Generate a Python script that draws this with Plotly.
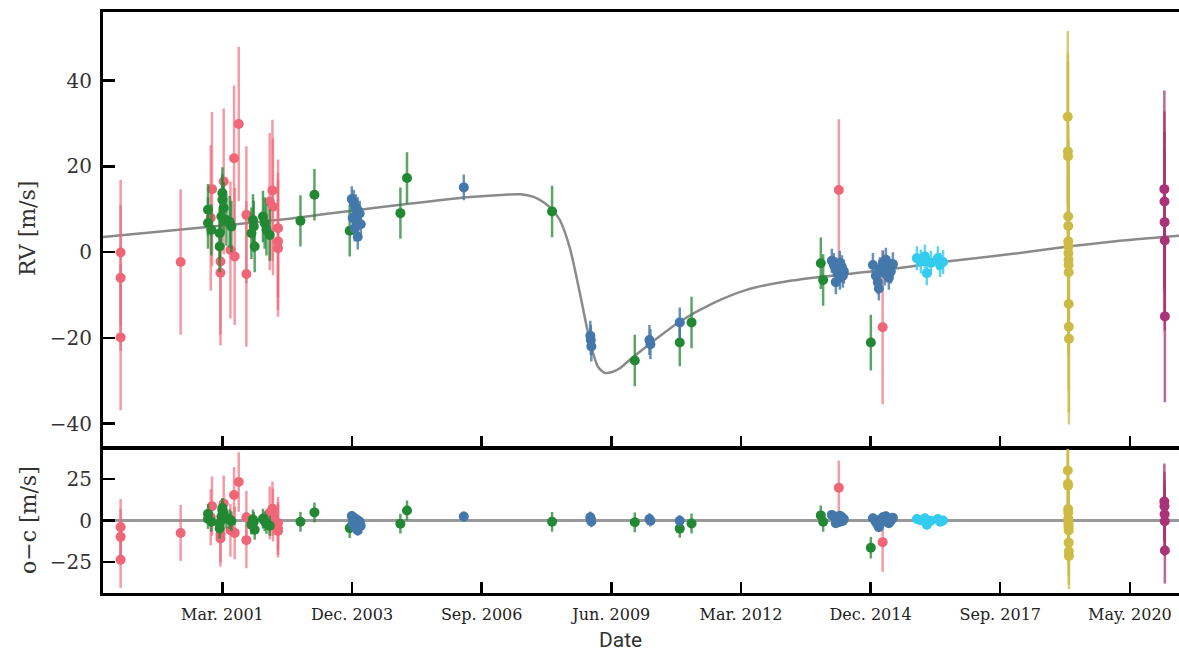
import plotly.graph_objects as go

# x values: BJD - 2450000
tick_vals = [2000, 3000, 4000, 5000, 6000, 7000, 8000, 9000]
tick_text = ["Mar. 2001", "Dec. 2003", "Sep. 2006", "Jun. 2009",
             "Mar. 2012", "Dec. 2014", "Sep. 2017", "May. 2020"]

# model curve
model_t = [1077, 1825, 2519, 3059, 3471, 3883, 4180, 4300, 4400, 4480, 4541, 4603,
           4680, 4757, 4811, 4860, 4898, 4950, 5012, 5066, 5143, 5272, 5529,
           5786, 6043, 6300, 6634, 7072, 7586, 8100, 8525, 8872, 9379]
model_rv = [3.5, 5.7, 7.8, 9.9, 11.4, 12.8, 13.4, 13.5, 12.9, 11.6, 10.0, 7.5,
            1.0, -9.5, -17.5, -23.6, -26.8, -28.2, -27.9, -27.1, -25.1, -22.0, -16.2,
            -11.9, -8.8, -7.1, -5.7, -4.3, -2.2, -0.4, 1.3, 2.5, 3.8]

# pink series
pink_t = [1215, 1215, 1215, 1678, 1910, 1920, 1985, 1985, 2010, 2062, 2095, 2090,
          2126, 2185, 2185, 2365, 2386, 2390, 2429, 2429, 2429, 6755, 7093]
pink_rv = [-0.1, -6.0, -19.9, -2.3, 8.0, 14.7, -2.2, -4.8, 16.5, 0.5, -1.0, 21.9,
           29.9, 8.7, -5.1, 11.8, 14.4, 10.6, 5.6, 2.5, 0.9, 14.5, -17.5]
pink_err = [17, 17, 17, 17, 17, 18, 17, 17, 17, 16, 16, 17,
            18, 16, 17, 16, 16.5, 16, 16, 16, 16, 16.5, 18]
pink_oc = [-4.0, -9.9, -23.8, -7.6, 2.0, 8.7, -8.3, -10.9, 10.3, -5.9, -7.5, 15.4,
           23.3, 2.0, -11.9, 4.6, 7.1, 3.3, -1.7, -4.8, -6.4, 19.8, -13.1]

# green series
green_t = [1889, 1889, 1915, 1979, 1979, 2000, 2000, 2010, 1992, 2031, 2056, 2069,
           2236, 2224, 2249, 2242, 2313, 2326, 2340, 2365, 2602, 2710, 2982, 3373,
           3424, 4543, 5181, 5528, 5619, 6616, 6634, 7002]
green_rv = [9.9, 6.8, 5.2, 4.4, 1.3, 13.8, 12.2, 10.3, 8.3, 7.5, 7.1, 6.0,
            7.5, 4.4, 1.3, 6.0, 8.3, 6.8, 5.2, 4.0, 7.3, 13.4, 5.0, 9.1,
            17.3, 9.5, -25.3, -21.1, -16.4, -2.6, -6.5, -21.1]
green_err = [6, 6, 6, 6, 6, 6, 6, 6, 6, 6, 6, 6,
             6, 6, 6, 6, 6, 6, 6, 6, 6, 6, 6, 6,
             6, 6, 6, 5.5, 6, 6, 6, 6.5]
green_oc = [4.0, 0.9, -0.8, -1.7, -4.8, 7.6, 6.0, 4.1, 2.2, 1.2, 0.8, -0.4,
            0.6, -2.5, -5.6, -0.9, 1.1, -0.4, -2.0, -3.2, -0.8, 4.9, -4.6, -1.9,
            6.1, -0.8, -1.1, -4.9, -1.8, 3.1, -0.8, -16.5]

# blue series
blue_t = [2998, 3013, 3029, 3044, 3059, 3005, 3036, 3067, 3021, 3044,
          3862, 4838, 4842, 4846, 5294, 5302, 5528,
          6701, 6717, 6732, 6748, 6763, 6779, 6794, 6732, 6763, 6786,
          7018, 7041, 7056, 7072, 7095, 7110, 7126, 7141, 7156, 7172, 7064, 7118]
blue_rv = [12.4, 11.5, 10.5, 9.8, 9.0, 8.0, 7.2, 6.5, 5.5, 3.6,
           15.1, -19.5, -20.5, -22.0, -20.5, -21.5, -16.4,
           -2.0, -3.0, -4.0, -5.0, -6.0, -3.5, -4.5, -7.0, -2.5, -5.5,
           -3.0, -5.5, -7.0, -4.0, -2.5, -5.0, -3.5, -6.0, -4.5, -2.8, -8.5, -1.8]
blue_err = [3, 3, 3, 3, 3, 3, 3, 3, 3, 3,
            3, 3.5, 3.5, 3.5, 3.5, 3.5, 3.5,
            2.8, 2.8, 2.8, 2.8, 2.8, 2.8, 2.8, 2.8, 2.8, 2.8,
            2.8, 2.8, 2.8, 2.8, 2.8, 2.8, 2.8, 2.8, 2.8, 2.8, 2.8, 2.8]
blue_oc = [2.7, 1.8, 0.8, 0.1, -0.7, -1.7, -2.5, -3.2, -4.2, -6.1,
           2.4, 1.9, 0.9, -0.6, 0.9, -0.1, -0.2,
           3.4, 2.4, 1.4, 0.4, -0.7, 1.9, 0.9, -1.7, 2.9, -0.2,
           1.4, -1.1, -2.6, 0.4, 1.9, -0.6, 0.9, -1.6, -0.1, 1.6, -4.1, 2.6]

# cyan series
cyan_t = [7357, 7388, 7419, 7434, 7465, 7519, 7536, 7559]
cyan_rv = [-1.4, -2.2, -1.0, -4.9, -2.5, -1.4, -3.0, -2.3]
cyan_err = [2.8, 2.8, 2.8, 2.8, 2.8, 2.8, 2.8, 2.8]
cyan_oc = [0.9, 0.1, 1.3, -2.6, -0.2, 0.9, -0.7, 0.0]

# yellow series
yellow_t = [8521, 8522, 8523, 8524, 8525, 8525, 8526, 8526, 8527, 8527, 8528, 8528, 8529, 8530]
yellow_rv = [31.6, 23.5, 22.3, 8.3, 6.1, 2.5, 1.3, -0.2, -1.8, -3.0, -4.7, -12.1, -17.4, -20.2]
yellow_err = [20, 23, 22, 21, 20, 20, 20, 20, 20, 20, 20, 20, 20, 20]
yellow_oc = [30.3, 22.2, 21.0, 7.0, 4.8, 1.2, 0.0, -1.5, -3.1, -4.3, -6.0, -13.4, -18.7, -21.5]

# purple series
purple_t = [9266, 9267, 9268, 9269, 9270]
purple_rv = [14.7, 11.8, 7.0, 2.7, -15.0]
purple_err = [23, 21, 21, 21, 20]
purple_oc = [11.5, 8.6, 3.8, -0.5, -18.2]

series = [
    ("pink", pink_t, pink_rv, pink_err, pink_oc, "#EE6677", "rgba(238,102,119,0.65)"),
    ("green", green_t, green_rv, green_err, green_oc, "#228833", "rgba(34,136,51,0.75)"),
    ("blue", blue_t, blue_rv, blue_err, blue_oc, "#4477AA", "rgba(68,119,170,0.8)"),
    ("cyan", cyan_t, cyan_rv, cyan_err, cyan_oc, "#33CCEE", "rgba(51,204,238,0.8)"),
    ("yellow", yellow_t, yellow_rv, yellow_err, yellow_oc, "#CCBB44", "rgba(204,187,68,0.75)"),
    ("purple", purple_t, purple_rv, purple_err, purple_oc, "#AA3377", "rgba(170,51,119,0.75)"),
]

fig = go.Figure()

fig.add_trace(go.Scatter(x=model_t, y=model_rv, mode="lines",
                         line=dict(color="#8a8a8a", width=2.5, shape="spline", smoothing=0.7),
                         xaxis="x", yaxis="y", showlegend=False, hoverinfo="skip"))

for name, t, rv, err, oc, col, ecol in series:
    fig.add_trace(go.Scatter(
        x=t, y=rv, mode="markers", name=name, xaxis="x", yaxis="y",
        marker=dict(size=10, color=col, line=dict(width=0)),
        error_y=dict(type="data", array=err, visible=True, thickness=2.5, width=0, color=ecol),
        showlegend=False))
    fig.add_trace(go.Scatter(
        x=t, y=oc, mode="markers", name=name, xaxis="x2", yaxis="y2",
        marker=dict(size=10, color=col, line=dict(width=0)),
        error_y=dict(type="data", array=err, visible=True, thickness=2.5, width=0, color=ecol),
        showlegend=False))

W = 1179
H = 656
LEFT = 103
PW = W - LEFT


def py(p):
    return 1 - p / H


def px(p):
    return (p - LEFT) / PW


xr = [1079, 9379]
ytick_font = dict(family="DejaVu Serif", size=20, color="#333333")
xtick_font = dict(family="DejaVu Serif", size=16, color="#222222")

common_x = dict(range=xr, tickvals=tick_vals, ticks="inside", ticklen=11, tickwidth=2.5,
                tickcolor="black", showline=True, linecolor="black", linewidth=3,
                mirror=True, showgrid=False, zeroline=False)

fig.update_layout(
    width=W, height=H,
    margin=dict(l=LEFT, r=0, t=0, b=0),
    paper_bgcolor="white", plot_bgcolor="white",
    showlegend=False,
    hovermode=False,
    xaxis=dict(domain=[0, 1], anchor="y", showticklabels=False, **common_x),
    xaxis2=dict(domain=[0, 1], anchor="y2", ticktext=tick_text, tickfont=xtick_font,
                ticklabelstandoff=5, **common_x),
    yaxis=dict(domain=[py(446.7), py(11.7)], range=[-45.4, 56.1],
               tickvals=[-40, -20, 0, 20, 40],
               ticktext=["\u221240", "\u221220", "0", "20", "40"],
               ticks="inside", ticklen=12, tickwidth=2.5, tickcolor="black",
               showline=True, linecolor="black", linewidth=3, mirror=False,
               showgrid=False, zeroline=False, tickfont=ytick_font,
               ticklabelstandoff=4, anchor="x"),
    yaxis2=dict(domain=[py(593), py(449)], range=[-43.9, 43.3],
                tickvals=[-25, 0, 25], ticktext=["\u221225", "0", "25"],
                ticks="inside", ticklen=12, tickwidth=2.5, tickcolor="black",
                showline=True, linecolor="black", linewidth=3, mirror=False,
                showgrid=False, zeroline=True, zerolinecolor="#999999", zerolinewidth=2.5,
                tickfont=ytick_font, ticklabelstandoff=4, anchor="x2"),
    annotations=[
        dict(text="RV [m/s]", textangle=-90, xref="paper", yref="paper",
             x=px(27), y=py(229), xanchor="center", yanchor="middle",
             showarrow=False, font=dict(family="DejaVu Serif", size=22, color="#333333")),
        dict(text="o\u2212c [m/s]", textangle=-90, xref="paper", yref="paper",
             x=px(28), y=py(520), xanchor="center", yanchor="middle",
             showarrow=False, font=dict(family="DejaVu Serif", size=22, color="#333333")),
        dict(text="Date", xref="paper", yref="paper",
             x=px(620), y=py(640), xanchor="center", yanchor="middle",
             showarrow=False, font=dict(family="Roboto", size=21, color="#333333")),
    ],
)

fig.write_html(
    "out.html",
    config={"displayModeBar": False, "staticPlot": True},
    post_script="document.body.style.margin='0';document.body.style.overflow='hidden';",
)
